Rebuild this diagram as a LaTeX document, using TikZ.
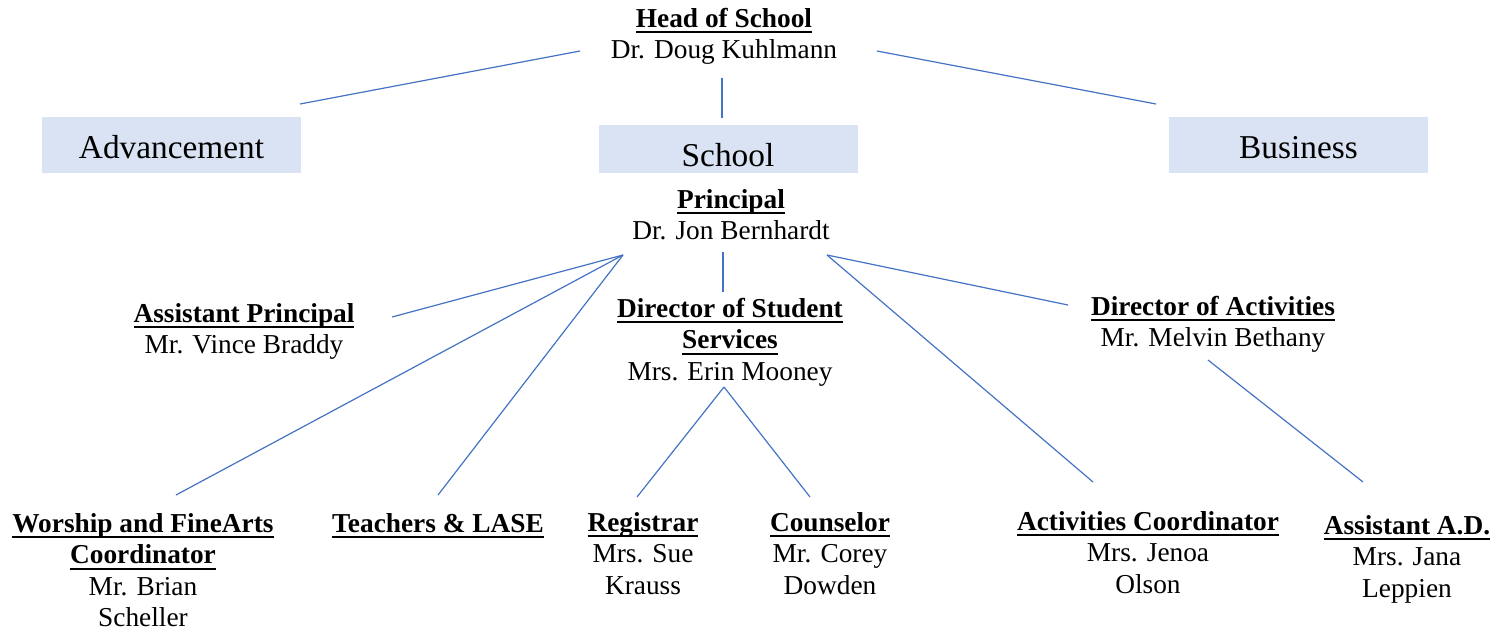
\documentclass[tikz,border=0pt]{standalone}
\usepackage{fontspec}
\setmainfont{Liberation Serif}
\newsavebox{\ulbox}
\newcommand{\hul}[1]{\sbox{\ulbox}{\bfseries #1}\rlap{\rule[-4.4pt]{\wd\ulbox}{1.3pt}}\usebox{\ulbox}}
\definecolor{linkblue}{HTML}{4472C4}
\definecolor{boxfill}{HTML}{DAE3F3}
\tikzset{
  person/.style={align=center, inner sep=0pt, anchor=north, font=\fontsize{20.5}{23.6}\selectfont},
  unitbox/.style={fill=boxfill, draw=none, inner sep=0pt, minimum width=194.25pt, minimum height=42pt},
  unitlabel/.style={inner sep=0pt, anchor=base, font=\fontsize{25}{30}\selectfont},
  link/.style={draw=linkblue, line width=0.9pt}
}
\begin{document}
\begin{tikzpicture}[x=0.75pt, y=-0.75pt]
\useasboundingbox (0,0) rectangle (1507,633);
% unit boxes
\node[unitbox] (advbox) at (171.5,145) {};
\node[unitlabel] (advtxt) at (171.5,158) {Advancement};
\node[unitbox, minimum height=36pt] (schbox) at (728,149) {};
\node[unitlabel] (schtxt) at (728,166) {School};
\node[unitbox] (busbox) at (1298.5,145) {};
\node[unitlabel] (bustxt) at (1298.5,158) {Business};
% people
\node[person] (head) at (724,5) {\strut\hul{Head of School}\\\strut Dr. Doug Kuhlmann};
\node[person] (prin) at (731,186) {\strut\hul{Principal}\\\strut Dr. Jon Bernhardt};
\node[person] (asst) at (244,300) {\strut\hul{Assistant Principal}\\\strut Mr. Vince Braddy};
\node[person] (dss) at (730,295) {\strut\hul{Director of Student}\\\strut\hul{Services}\\\strut Mrs. Erin Mooney};
\node[person] (doa) at (1213,293) {\strut\hul{Director of Activities}\\\strut Mr. Melvin Bethany};
\node[person] (wor) at (143,510) {\strut\hul{Worship and FineArts}\\\strut\hul{Coordinator}\\\strut Mr. Brian\\\strut Scheller};
\node[person] (tea) at (438,510) {\strut\hul{Teachers \& LASE}};
\node[person] (reg) at (643,509) {\strut\hul{Registrar}\\\strut Mrs. Sue\\\strut Krauss};
\node[person] (cou) at (830,509) {\strut\hul{Counselor}\\\strut Mr. Corey\\\strut Dowden};
\node[person] (act) at (1148,508) {\strut\hul{Activities Coordinator}\\\strut Mrs. Jenoa\\\strut Olson};
\node[person] (aad) at (1407,512) {\strut\hul{Assistant A.D.}\\\strut Mrs. Jana\\\strut Leppien};
% connector end points
\coordinate (headL) at (580,51);
\coordinate (headC) at (722,78);
\coordinate (headR) at (877,51);
\coordinate (advT) at (300,104);
\coordinate (schT) at (722,118);
\coordinate (busT) at (1156,104);
\coordinate (prinL) at (623,255);
\coordinate (prinC) at (723,252);
\coordinate (prinR) at (827,255);
\coordinate (asstE) at (392,317);
\coordinate (worT) at (176,495);
\coordinate (teaT) at (438,495);
\coordinate (dssT) at (723,292);
\coordinate (actT) at (1093,482);
\coordinate (doaE) at (1068,305);
\coordinate (doaB) at (1208,360);
\coordinate (aadT) at (1363,482);
\coordinate (dssB) at (724,387);
\coordinate (regT) at (637,497);
\coordinate (couT) at (810,497);
% connectors
\draw[link] (headL) -- (advT);
\draw[link] (headC) -- (schT);
\draw[link] (headR) -- (busT);
\draw[link] (prinL) -- (asstE);
\draw[link] (prinL) -- (worT);
\draw[link] (prinL) -- (teaT);
\draw[link] (prinC) -- (dssT);
\draw[link] (prinR) -- (actT);
\draw[link] (prinR) -- (doaE);
\draw[link] (doaB) -- (aadT);
\draw[link] (dssB) -- (regT);
\draw[link] (dssB) -- (couT);
\end{tikzpicture}
\end{document}
